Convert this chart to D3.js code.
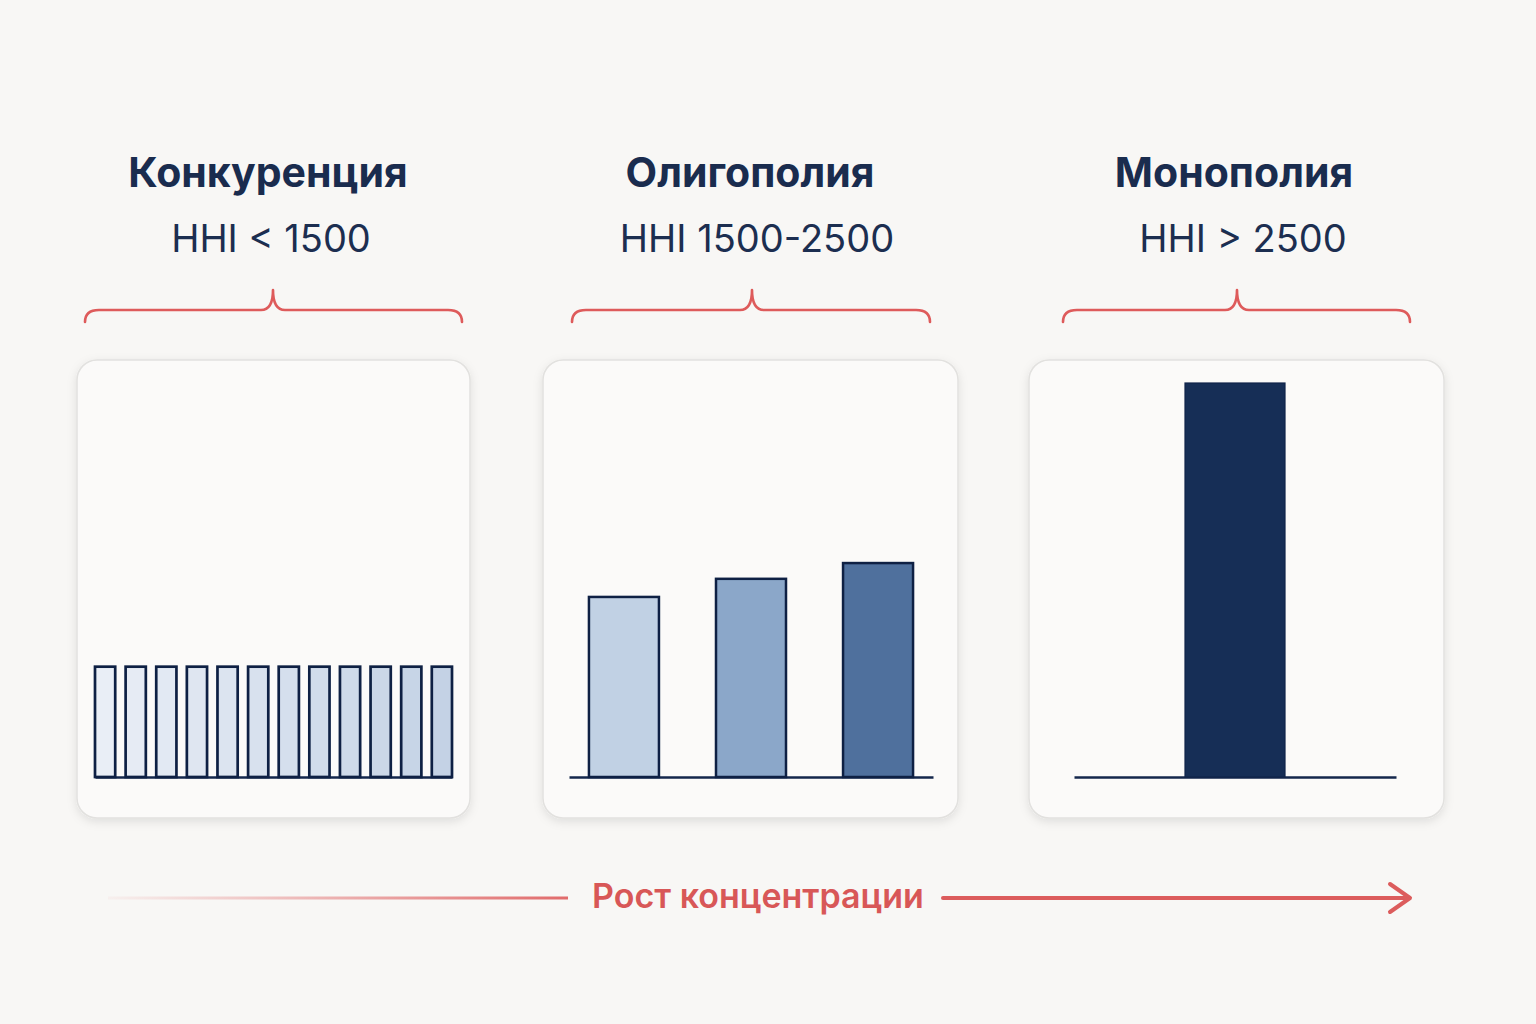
<!DOCTYPE html>
<html>
<head>
<meta charset="utf-8">
<script src="https://cdn.jsdelivr.net/npm/d3@7"></script>
<style>
  html, body { margin: 0; padding: 0; background: #f8f7f5; }
  svg { display: block; }
  text { font-family: Inter, "Noto Sans", "DejaVu Sans", sans-serif; }
</style>
</head>
<body>
<svg id="chart" width="1536" height="1024"></svg>
<script>
// ---------- DATA ----------
const panelTitles = ["Конкуренция", "Олигополия", "Монополия"];
const panelSubtitles = ["HHI < 1500", "HHI 1500-2500", "HHI > 2500"];
// relative bar heights (0–100)
const competitionValues = [28, 28, 28, 28, 28, 28, 28, 28, 28, 28, 28, 28];
const oligopolyValues = [45.7, 50.3, 54.3];
const monopolyValues = [100];
const arrowLabel = "Рост концентрации";

// ---------- LAYOUT ----------
const W = 1536, H = 1024;
const svg = d3.select("#chart");
svg.append("rect").attr("width", W).attr("height", H).attr("fill", "#f8f7f5");

const defs = svg.append("defs");
const shadow = defs.append("filter").attr("id", "shadow")
  .attr("x", "-10%").attr("y", "-10%").attr("width", "120%").attr("height", "120%");
shadow.append("feDropShadow").attr("dx", 0).attr("dy", 3).attr("stdDeviation", 5)
  .attr("flood-color", "#000").attr("flood-opacity", 0.10);

const grad = defs.append("linearGradient").attr("id", "fadeLine")
  .attr("gradientUnits", "userSpaceOnUse").attr("x1", 108).attr("x2", 568).attr("y1", 0).attr("y2", 0);
grad.append("stop").attr("offset", "0%").attr("stop-color", "#e06a6a").attr("stop-opacity", 0.05);
grad.append("stop").attr("offset", "100%").attr("stop-color", "#e06464").attr("stop-opacity", 0.95);

const y = d3.scaleLinear().domain([0, 100]).range([777, 383]);

const panels = [
  { card: [77, 360, 393, 458], title: 268, sub: 271, brace: [85, 462, 273],
    values: competitionValues, range: [95, 452], pi: 0.34, po: 0,
    fills: competitionValues.map((d, i) => d3.interpolateRgb("#e9eef6", "#c4d2e5")(i / (competitionValues.length - 1))),
    stroke: "#0e2044", sw: 2.7 },
  { card: [543, 360, 415, 458], title: 750, sub: 757, brace: [572, 930, 752],
    values: oligopolyValues, range: [569, 933], pi: 0.449, po: 0.157,
    fills: ["#c1d1e4", "#8ba7c9", "#4f709d"], stroke: "#0e2044", sw: 2.5 },
  { card: [1029, 360, 415, 458], title: 1234, sub: 1243, brace: [1063, 1410, 1237],
    values: monopolyValues, range: [1074, 1396], pi: 0, po: 1.11,
    fills: ["#162e56"], stroke: "#10244a", sw: 1.2 }
];

panels.forEach((p, k) => {
  const g = svg.append("g");

  // titles
  g.append("text").attr("x", p.title).attr("y", 187).attr("text-anchor", "middle")
    .attr("font-size", 41).attr("font-weight", 700).attr("fill", "#1a2c4e")
    .text(panelTitles[k]);
  g.append("text").attr("x", p.sub).attr("y", 252).attr("text-anchor", "middle")
    .attr("font-size", 38).attr("font-weight", 400).attr("fill", "#1c2e50")
    .text(panelSubtitles[k]);

  // brace
  const [L, R, C] = p.brace;
  const yb = 310, ye = 322, yt = 290;
  const d = `M${L},${ye} Q${L},${yb} ${L + 14},${yb} H${C - 12} Q${C},${yb} ${C},${yt} ` +
            `Q${C},${yb} ${C + 12},${yb} H${R - 14} Q${R},${yb} ${R},${ye}`;
  g.append("path").attr("d", d).attr("fill", "none").attr("stroke", "#de5b5b")
    .attr("stroke-width", 2.6).attr("stroke-linecap", "round").attr("stroke-linejoin", "round");

  // card
  const [cx, cy, cw, ch] = p.card;
  g.append("rect").attr("x", cx).attr("y", cy).attr("width", cw).attr("height", ch)
    .attr("rx", 20).attr("fill", "#fbfaf9").attr("stroke", "#e2e1df").attr("stroke-width", 1.5)
    .attr("filter", "url(#shadow)");

  // scales
  const x = d3.scaleBand().domain(d3.range(p.values.length)).range(p.range)
    .paddingInner(p.pi).paddingOuter(p.po);

  // baseline axis
  const axis = g.append("g").attr("transform", `translate(0,${y(0)})`)
    .call(d3.axisBottom(x).tickValues([]).tickSizeOuter(0));
  axis.select(".domain").attr("stroke", "#14274c").attr("stroke-width", 2.5);

  // bars
  g.selectAll("rect.bar").data(p.values).join("rect").attr("class", "bar")
    .attr("x", (d, i) => x(i)).attr("width", x.bandwidth())
    .attr("y", d => y(d)).attr("height", d => y(0) - y(d))
    .attr("fill", (d, i) => p.fills[i])
    .attr("stroke", p.stroke).attr("stroke-width", p.sw);
});

// arrow
const ay = 898;
svg.append("line").attr("x1", 108).attr("x2", 568).attr("y1", ay).attr("y2", ay)
  .attr("stroke", "url(#fadeLine)").attr("stroke-width", 3);
svg.append("text").attr("x", 758).attr("y", 908).attr("text-anchor", "middle")
  .attr("font-size", 34).attr("font-weight", 600).attr("fill", "#d85757")
  .text(arrowLabel);
svg.append("line").attr("x1", 943).attr("x2", 1408).attr("y1", ay).attr("y2", ay)
  .attr("stroke", "#dc5c5c").attr("stroke-width", 4).attr("stroke-linecap", "round");
svg.append("path").attr("d", `M1390,884 L1410,${ay} L1390,912`)
  .attr("fill", "none").attr("stroke", "#dc5c5c").attr("stroke-width", 4)
  .attr("stroke-linecap", "round").attr("stroke-linejoin", "round");
</script>
</body>
</html>
